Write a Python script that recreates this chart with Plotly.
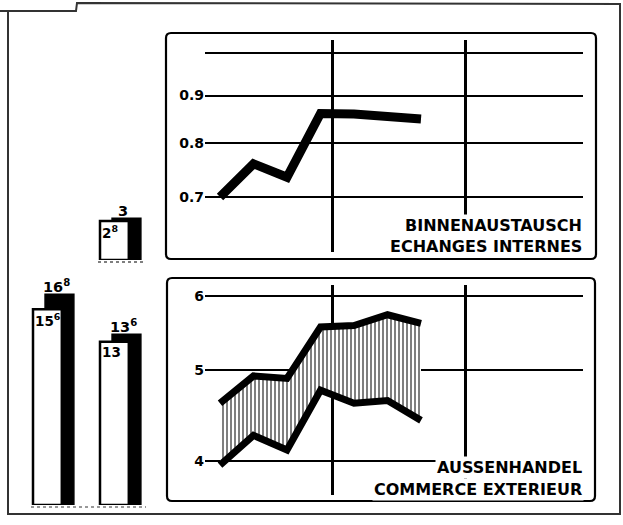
import plotly.graph_objects as go

W, H = 623, 525


def px(x):
    return x / W


def py(y):
    return 1 - y / H


# ---------------- data ----------------
periods = [0, 1, 2, 3, 4, 5, 6]
binnen = [0.70, 0.76, 0.735, 0.861, 0.860, 0.856, 0.849]
aussen_hi = [4.61, 4.93, 4.90, 5.56, 5.58, 5.73, 5.61]
aussen_lo = [3.96, 4.26, 4.11, 4.76, 4.61, 4.64, 4.42]

top_ticks = [0.7, 0.8, 0.9, 1.0]
top_ticktext = ["0.7", "0.8", "0.9", ""]
bot_ticks = [4, 5, 6]
bot_ticktext = ["4", "5", "6"]
period_marks = [3.37, 7.34]

bar_groups = [0, 1]
bars_white = [15.6, 13.0]
bars_black = [16.8, 13.6]
small_group = [1]
small_white = [2.8]
small_black = [3.0]

FONT = "DejaVu Sans"


def fmt(v):
    i = int(v)
    d = round((v - i) * 10)
    return f"{i}<sup>{d}</sup>" if d else f"{i}"


fig = go.Figure()

# ---------------- line panels ----------------
fig.add_trace(go.Scatter(x=periods, y=binnen, mode="lines",
                         line=dict(color="black", width=9),
                         xaxis="x", yaxis="y", showlegend=False, hoverinfo="skip"))

fig.add_trace(go.Scatter(x=periods, y=aussen_lo, mode="lines",
                         line=dict(color="black", width=7),
                         xaxis="x2", yaxis="y2", showlegend=False, hoverinfo="skip"))
fig.add_trace(go.Scatter(x=periods, y=aussen_hi, mode="lines",
                         line=dict(color="black", width=7),
                         fill="tonexty",
                         fillpattern=dict(shape="|", fgcolor="black", bgcolor="white",
                                          size=4, solidity=0.5),
                         xaxis="x2", yaxis="y2", showlegend=False, hoverinfo="skip"))

# ---------------- bars ----------------
BW = 0.43
fig.add_trace(go.Bar(x=bar_groups, y=bars_black, width=BW, offset=-0.04,
                     marker=dict(color="black", line=dict(color="black", width=1.5)),
                     xaxis="x3", yaxis="y3", showlegend=False, hoverinfo="skip"))
fig.add_trace(go.Bar(x=bar_groups, y=bars_white, width=BW, offset=-0.22,
                     marker=dict(color="white", line=dict(color="black", width=2.5)),
                     xaxis="x3", yaxis="y3", showlegend=False, hoverinfo="skip"))
fig.add_trace(go.Bar(x=small_group, y=small_black, width=BW, offset=-0.04,
                     marker=dict(color="black", line=dict(color="black", width=1.5)),
                     xaxis="x4", yaxis="y4", showlegend=False, hoverinfo="skip"))
fig.add_trace(go.Bar(x=small_group, y=small_white, width=BW, offset=-0.22,
                     marker=dict(color="white", line=dict(color="black", width=2.5)),
                     xaxis="x4", yaxis="y4", showlegend=False, hoverinfo="skip"))

annotations = []
in_font = dict(family=FONT, size=13.5, color="black", weight="bold")
out_font = dict(family=FONT, size=14.5, color="black", weight="bold")
for xs, wv, bv, ya, xa in [(bar_groups, bars_white, bars_black, "y3", "x3"),
                           (small_group, small_white, small_black, "y4", "x4")]:
    for g, w, b in zip(xs, wv, bv):
        annotations.append(dict(x=g - 0.22, y=w, xref=xa, yref=ya, text=fmt(w),
                                showarrow=False, xanchor="left", yanchor="top",
                                xshift=1, yshift=-1, borderpad=0, font=in_font))
        annotations.append(dict(x=g + 0.175, y=b, xref=xa, yref=ya, text=fmt(b),
                                showarrow=False, xanchor="center", yanchor="bottom",
                                xshift=-3, yshift=-3, font=out_font))

title_font = dict(family=FONT, size=16, color="black", weight="bold")
for txt, yy in [("BINNENAUSTAUSCH", 225), ("ECHANGES INTERNES", 246),
                ("AUSSENHANDEL", 467), ("COMMERCE EXTERIEUR", 489)]:
    annotations.append(dict(x=px(584), y=py(yy), xref="paper", yref="paper", text=txt,
                            showarrow=False, xanchor="right", yanchor="middle",
                            bgcolor="white", borderpad=1, font=title_font))

# ---------------- decorative frames ----------------


def rrect(x0, y0, x1, y1, r):
    rx, ry = r / W, r / H
    X0, X1, Y0, Y1 = px(x0), px(x1), py(y0), py(y1)
    return (f"M {X0 + rx},{Y0} L {X1 - rx},{Y0} Q {X1},{Y0} {X1},{Y0 - ry} "
            f"L {X1},{Y1 + ry} Q {X1},{Y1} {X1 - rx},{Y1} "
            f"L {X0 + rx},{Y1} Q {X0},{Y1} {X0},{Y1 + ry} "
            f"L {X0},{Y0 - ry} Q {X0},{Y0} {X0 + rx},{Y0} Z")


shapes = [
    dict(type="path", path=rrect(166, 33, 596, 259, 5), xref="paper", yref="paper",
         line=dict(color="black", width=2.2), layer="below"),
    dict(type="path", path=rrect(167, 278, 595, 501, 5), xref="paper", yref="paper",
         line=dict(color="black", width=2.2), layer="below"),
    # outer frame with tab
    dict(type="path",
         path=f"M 0,{py(11)} L {px(76)},{py(11)} L {px(77)},{py(3)} L {px(620)},{py(4)} "
              f"L {px(620)},{py(514)} L {px(8)},{py(514)} L {px(8)},{py(11)}",
         xref="paper", yref="paper", line=dict(color="#333333", width=2)),
    # dotted bar baselines
    dict(type="line", x0=px(98), x1=px(144), y0=py(262), y1=py(262), xref="paper",
         yref="paper", line=dict(color="#555555", width=1.5, dash="dot")),
    dict(type="line", x0=px(31), x1=px(146), y0=py(507), y1=py(507), xref="paper",
         yref="paper", line=dict(color="#777777", width=1.5, dash="dot")),
]

xr = [(205 - 220) / 33.5, (583 - 220) / 33.5]
xcommon = dict(range=xr, domain=[px(205), px(583)], tickvals=period_marks, showgrid=True,
               gridcolor="black", gridwidth=3, showticklabels=False, ticks="",
               zeroline=False, showline=False, fixedrange=True)
ycommon = dict(type="log", showgrid=True, gridcolor="black", gridwidth=1.6, ticks="",
               zeroline=False, showline=False,
               tickfont=dict(family=FONT, size=14, color="black", weight="bold"))

bar_x = dict(domain=[px(20), px(160)], range=[-0.414, -0.414 + 140 / 67], visible=False)

fig.update_layout(
    width=W, height=H, margin=dict(l=0, r=0, t=0, b=0),
    paper_bgcolor="white", plot_bgcolor="white", barmode="overlay",
    showlegend=False,
    xaxis=dict(**xcommon, anchor="y"),
    yaxis=dict(**ycommon, domain=[py(252), py(40)], range=[-0.2141, 0.0140],
               tickvals=top_ticks, ticktext=top_ticktext, anchor="x"),
    xaxis2=dict(**xcommon, anchor="y2"),
    yaxis2=dict(**ycommon, domain=[py(495), py(285)], range=[0.56577, 0.78989],
                tickvals=bot_ticks, ticktext=bot_ticktext, anchor="x2"),
    xaxis3=dict(**bar_x, anchor="y3"),
    yaxis3=dict(domain=[py(505), py(280)], range=[0, 225 / 12.55], visible=False,
                anchor="x3"),
    xaxis4=dict(**bar_x, anchor="y4"),
    yaxis4=dict(domain=[py(260), py(200)], range=[0, 60 / 13.9], visible=False,
                anchor="x4"),
    annotations=annotations, shapes=shapes,
)

fig.write_html("out.html", config={"displayModeBar": False},
               post_script="document.body.style.margin='0';document.body.style.overflow='hidden';")
